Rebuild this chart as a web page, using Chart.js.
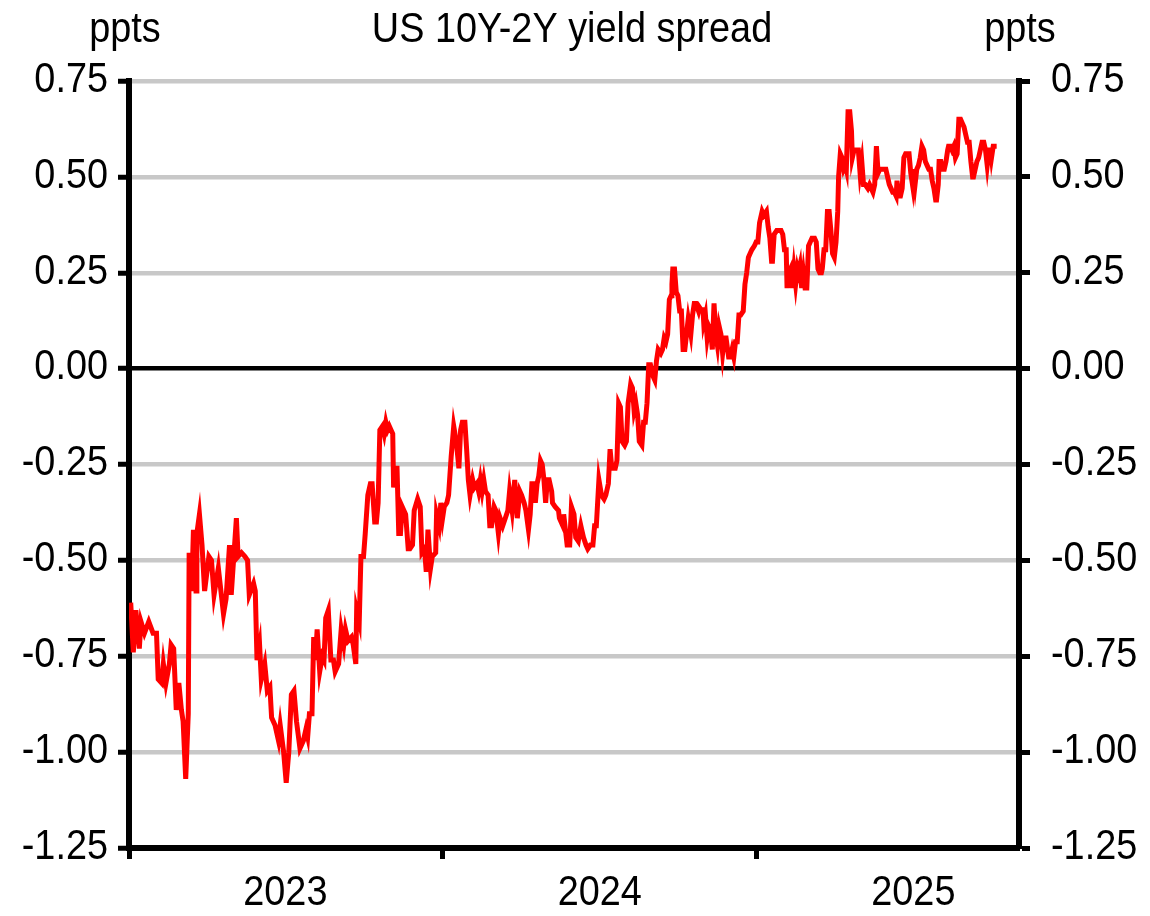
<!DOCTYPE html>
<html>
<head>
<meta charset="utf-8">
<script src="https://cdn.jsdelivr.net/npm/chart.js@4"></script>
<style>
  html, body { margin: 0; padding: 0; background: #fff; }
  #wrap { width: 1150px; height: 916px; }
</style>
</head>
<body>
<div id="wrap"><canvas id="spreadChart" width="1150" height="916"></canvas></div>
<script>
// calendar days since 1 Jan 2023
const days = [
  2, 5, 8, 12, 14, 18, 23, 28, 32, 34, 38, 40, 43, 47, 49, 52, 55, 58, 61, 63,
  66, 69, 70, 73, 75, 78, 79, 82, 85, 88, 93, 96, 99, 104, 110, 113, 117, 119, 125, 127,
  131, 135, 138, 140, 145, 147, 149, 152, 154, 158, 161, 164, 166, 170, 174, 176, 180, 183, 186, 189,
  192, 195, 199, 203, 206, 208, 210, 213, 215, 217, 219, 222, 225, 227, 229, 232, 235, 238, 240, 244,
  247, 250, 252, 255, 259, 261, 264, 265, 268, 270, 273, 275, 278, 281, 283, 286, 288, 290, 292, 295,
  297, 299, 301, 303, 305, 307, 308, 311, 312, 314, 316, 318, 322, 325, 327, 330, 332, 336, 339, 341,
  344, 346, 348, 351, 353, 357, 358, 361, 363, 365, 367, 370, 372, 375, 378, 381, 384, 386, 388, 391,
  393, 395, 397, 400, 402, 405, 407, 409, 411, 413, 415, 418, 420, 422, 425, 427, 430, 432, 435, 438,
  441, 443, 446, 449, 452, 455, 457, 460, 462, 465, 467, 469, 471, 473, 475, 477, 479, 481, 483, 485,
  487, 489, 492, 493, 496, 500, 501, 503, 505, 506, 508, 510, 513, 515, 518, 520, 523, 526, 527, 529,
  532, 534, 537, 540, 542, 544, 547, 550, 553, 555, 558, 560, 562, 566, 568, 570, 572, 574, 577, 579,
  581, 584, 586, 588, 590, 592, 594, 597, 599, 601, 603, 605, 607, 610, 612, 614, 616, 619, 621, 623,
  625, 627, 629, 631, 632, 633, 635, 637, 639, 641, 643, 645, 647, 649, 651, 654, 656, 658, 660, 663,
  664, 667, 668, 669, 671, 673, 675, 677, 679, 681, 683, 685, 687, 689, 691, 693, 695, 698, 700, 702,
  704, 706, 708, 710, 712, 715, 717, 719, 721, 723, 725, 728, 730, 732, 734, 737, 739, 742, 744, 746,
  748, 749, 751, 754, 756, 759, 761, 763, 765, 766, 768, 770, 772, 774, 776, 778, 779, 781, 783, 785,
  787, 789, 791, 793, 795, 798, 800, 802, 804, 806, 807, 809, 811, 813, 815, 817, 819, 821, 823, 825,
  826, 828, 830, 832, 834, 835, 837, 839, 841, 842, 844, 846, 849, 851, 853, 855, 857, 860, 862, 864,
  866, 868, 870, 872, 874, 876, 878, 881, 883, 885, 887, 889, 891, 893, 894, 896, 898, 900, 902, 904,
  906, 908, 910, 912, 913, 915, 917, 919, 921, 923, 925, 927, 929, 931, 933, 935, 937, 939, 940, 942,
  943, 945, 947, 949, 951, 953, 954, 956, 958, 960, 962, 964, 966, 968, 970, 972, 974, 976, 978, 980,
  982, 983, 985, 987, 989, 991, 993, 995, 997, 999, 1001, 1003, 1004, 1006, 1008, 1010
];

// 10Y minus 2Y treasury yield, ppts
const spread = [
  -0.61, -0.74, -0.63, -0.73, -0.66, -0.69, -0.66, -0.69, -0.69, -0.81, -0.82, -0.77, -0.82, -0.77, -0.72, -0.73, -0.89, -0.82, -0.89, -0.92,
  -1.07, -0.90, -0.48, -0.58, -0.42, -0.58, -0.43, -0.38, -0.46, -0.58, -0.49, -0.50, -0.59, -0.52, -0.64, -0.60, -0.46, -0.59, -0.39, -0.49,
  -0.48, -0.49, -0.50, -0.59, -0.56, -0.58, -0.76, -0.72, -0.81, -0.77, -0.84, -0.83, -0.91, -0.93, -0.97, -0.93, -1.00, -1.08, -1.00, -0.85,
  -0.84, -0.92, -0.99, -0.97, -0.94, -0.96, -0.90, -0.90, -0.70, -0.76, -0.68, -0.79, -0.75, -0.76, -0.65, -0.63, -0.76, -0.76, -0.79, -0.77,
  -0.68, -0.72, -0.68, -0.71, -0.70, -0.72, -0.77, -0.63, -0.66, -0.49, -0.49, -0.43, -0.33, -0.30, -0.30, -0.40, -0.40, -0.35, -0.16, -0.15,
  -0.17, -0.14, -0.16, -0.15, -0.16, -0.17, -0.31, -0.26, -0.26, -0.43, -0.43, -0.36, -0.38, -0.47, -0.47, -0.46, -0.37, -0.34, -0.36, -0.48,
  -0.47, -0.53, -0.42, -0.52, -0.49, -0.48, -0.38, -0.41, -0.35, -0.39, -0.36, -0.35, -0.33, -0.23, -0.15, -0.19, -0.26, -0.16, -0.14, -0.14,
  -0.21, -0.29, -0.33, -0.29, -0.31, -0.30, -0.32, -0.29, -0.32, -0.29, -0.32, -0.33, -0.41, -0.41, -0.36, -0.37, -0.43, -0.39, -0.41, -0.39,
  -0.37, -0.32, -0.37, -0.29, -0.39, -0.32, -0.33, -0.35, -0.37, -0.42, -0.38, -0.30, -0.30, -0.35, -0.30, -0.28, -0.24, -0.25, -0.29, -0.35,
  -0.29, -0.29, -0.32, -0.35, -0.36, -0.37, -0.39, -0.40, -0.41, -0.38, -0.42, -0.46, -0.46, -0.36, -0.38, -0.44, -0.45, -0.41, -0.42, -0.44,
  -0.46, -0.47, -0.46, -0.46, -0.41, -0.41, -0.29, -0.33, -0.34, -0.33, -0.30, -0.21, -0.26, -0.26, -0.24, -0.09, -0.10, -0.19, -0.20, -0.19,
  -0.09, -0.04, -0.05, -0.11, -0.09, -0.12, -0.19, -0.20, -0.14, -0.14, -0.09, 0.01, 0.01, -0.02, -0.03, 0.02, 0.05, 0.04, 0.05, 0.08,
  0.07, 0.09, 0.18, 0.19, 0.22, 0.26, 0.26, 0.20, 0.19, 0.15, 0.15, 0.05, 0.05, 0.09, 0.13, 0.09, 0.14, 0.17, 0.17, 0.15,
  0.16, 0.15, 0.16, 0.12, 0.14, 0.08, 0.11, 0.10, 0.05, 0.17, 0.09, 0.06, 0.11, 0.09, 0.04, 0.08, 0.08, 0.03, 0.03, 0.05,
  0.03, 0.07, 0.07, 0.14, 0.14, 0.15, 0.22, 0.25, 0.29, 0.30, 0.31, 0.32, 0.33, 0.33, 0.38, 0.41, 0.40, 0.41, 0.37, 0.34,
  0.28, 0.28, 0.35, 0.36, 0.36, 0.36, 0.35, 0.31, 0.31, 0.21, 0.25, 0.26, 0.21, 0.26, 0.22, 0.26, 0.25, 0.27, 0.21, 0.25,
  0.21, 0.21, 0.32, 0.33, 0.34, 0.34, 0.33, 0.26, 0.25, 0.25, 0.26, 0.31, 0.31, 0.41, 0.41, 0.36, 0.30, 0.29, 0.33, 0.41,
  0.50, 0.56, 0.55, 0.52, 0.53, 0.52, 0.67, 0.67, 0.62, 0.55, 0.57, 0.57, 0.57, 0.51, 0.54, 0.48, 0.48, 0.47, 0.48, 0.47,
  0.46, 0.48, 0.58, 0.51, 0.52, 0.52, 0.52, 0.52, 0.50, 0.48, 0.47, 0.46, 0.46, 0.45, 0.49, 0.45, 0.45, 0.47, 0.55, 0.56,
  0.56, 0.56, 0.51, 0.48, 0.52, 0.48, 0.52, 0.53, 0.55, 0.58, 0.57, 0.54, 0.53, 0.52, 0.52, 0.49, 0.47, 0.44, 0.44, 0.48,
  0.54, 0.54, 0.52, 0.52, 0.54, 0.57, 0.58, 0.58, 0.57, 0.58, 0.55, 0.56, 0.65, 0.65, 0.64, 0.63, 0.61, 0.59, 0.59, 0.54,
  0.50, 0.50, 0.52, 0.54, 0.55, 0.57, 0.59, 0.59, 0.57, 0.53, 0.57, 0.57, 0.55, 0.58, 0.58, 0.58
];

// x axis: year boundaries get tick marks, mid-year positions carry the labels
const yearStarts = [0, 365, 731];
const yearMids = [182, 548, 913];
const yearLabels = ['2023', '2024', '2025'];

const yTicks = [0.75, 0.50, 0.25, 0.00, -0.25, -0.50, -0.75, -1.00, -1.25];

// no narrow font installed, so the text is squeezed horizontally
const FONT = "43px 'Liberation Sans', Arial, sans-serif";
const SQUEEZE = 0.88;

function squeezedText(c, text, x, y, align) {
  c.save();
  c.translate(x, y);
  c.scale(SQUEEZE, 1);
  c.textAlign = align;
  c.fillText(text, 0, 0);
  c.restore();
}

// axis labels and titles, placed from the chart's own scales
const textLayer = {
  id: 'textLayer',
  afterDraw(chart) {
    const c = chart.ctx;
    const area = chart.chartArea;
    const sx = chart.scales.x;
    const sy = chart.scales.y;
    c.save();
    c.fillStyle = '#000';
    c.font = FONT;

    c.textBaseline = 'alphabetic';
    squeezedText(c, 'US 10Y-2Y yield spread', (area.left + area.right) / 2 - 2, 42, 'center');
    squeezedText(c, 'ppts', 125, 42, 'center');
    squeezedText(c, 'ppts', 1020, 42, 'center');

    c.textBaseline = 'middle';
    yTicks.forEach(function (v) {
      const py = sy.getPixelForValue(v) - 1;
      const label = v.toFixed(2);
      squeezedText(c, label, area.left - 21, py, 'right');
      squeezedText(c, label, area.right + 32, py, 'left');
    });

    c.textBaseline = 'alphabetic';
    yearMids.forEach(function (v, i) {
      squeezedText(c, yearLabels[i], sx.getPixelForValue(v), 905, 'center');
    });
    c.restore();
  }
};

new Chart(document.getElementById('spreadChart').getContext('2d'), {
  type: 'line',
  data: {
    datasets: [{
      data: days.map((d, i) => ({ x: d, y: spread[i] })),
      borderColor: '#ff0000',
      borderWidth: 5,
      pointRadius: 0,
      tension: 0,
      fill: false
    }]
  },
  options: {
    responsive: false,
    animation: false,
    events: [],
    layout: { padding: { top: 81, left: 0, right: 0, bottom: 0 } },
    plugins: {
      legend: { display: false },
      tooltip: { enabled: false }
    },
    scales: {
      x: {
        type: 'linear',
        position: 'bottom',
        min: 0,
        max: 1036,
        afterBuildTicks: function (axis) {
          axis.ticks = yearStarts.map(v => ({ value: v }));
        },
        afterFit: function (axis) { axis.height = 68; },
        ticks: { display: false },
        grid: {
          drawOnChartArea: false,
          drawTicks: true,
          tickLength: 11,
          tickWidth: 5,
          tickColor: '#000'
        },
        border: { display: true, color: '#000', width: 6 }
      },
      y: {
        position: 'left',
        min: -1.25,
        max: 0.75,
        afterBuildTicks: function (axis) {
          axis.ticks = yTicks.map(v => ({ value: v }));
        },
        afterFit: function (axis) { axis.width = 129; },
        ticks: { display: false },
        grid: {
          color: function (ctx) {
            return ctx.tick && ctx.tick.value === 0 ? '#000' : '#c8c8c8';
          },
          lineWidth: 4.5,
          drawTicks: true,
          tickLength: 11,
          tickWidth: 5,
          tickColor: '#000'
        },
        border: { display: true, color: '#000', width: 6 }
      },
      y2: {
        position: 'right',
        min: -1.25,
        max: 0.75,
        afterBuildTicks: function (axis) {
          axis.ticks = yTicks.map(v => ({ value: v }));
        },
        afterFit: function (axis) { axis.width = 131; },
        ticks: { display: false },
        grid: {
          drawOnChartArea: false,
          drawTicks: true,
          tickLength: 11,
          tickWidth: 5,
          tickColor: '#000'
        },
        border: { display: true, color: '#000', width: 6 }
      }
    }
  },
  plugins: [textLayer]
});
</script>
</body>
</html>
